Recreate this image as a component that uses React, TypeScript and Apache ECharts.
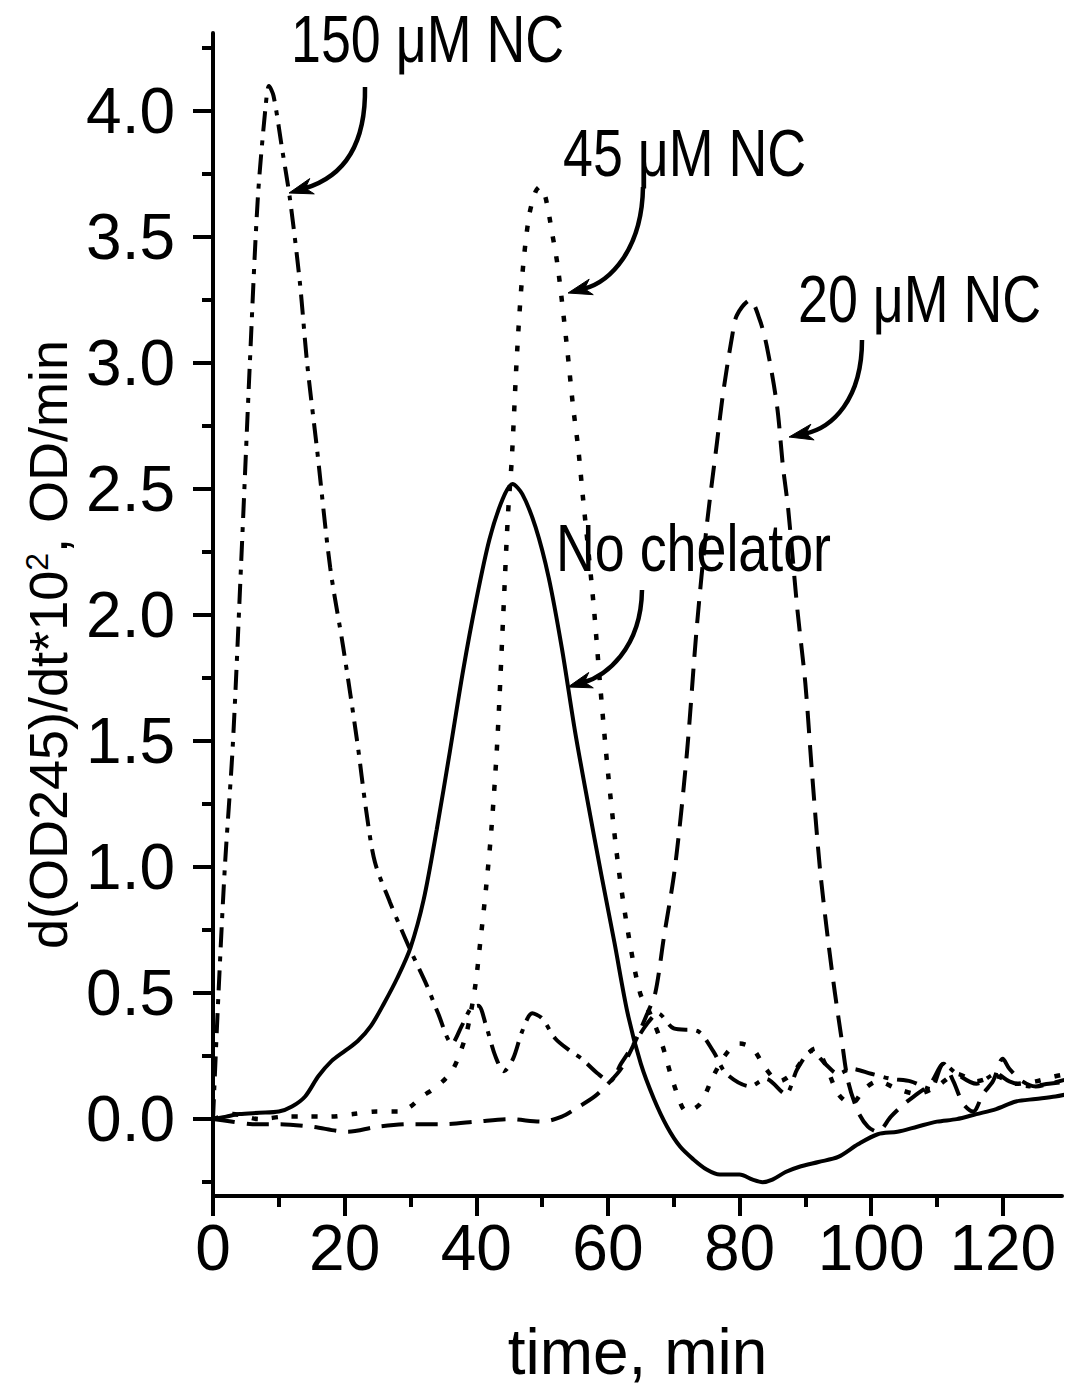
import React, { useEffect, useRef } from "react";
import * as echarts from "echarts";

// ---------- data (time in min, rate in d(OD245)/dt*10^2) ----------
const noChelatorTime = [0, 2, 4, 7, 10, 12, 14, 16, 18, 20, 22, 24, 26, 28, 30, 32, 34, 36, 38, 40, 42, 44, 45.5, 47, 49, 51, 53, 55, 57, 59, 61, 63, 65, 67, 69, 71, 73, 75, 77, 80, 82, 83.5, 85, 87, 89, 92, 95, 98, 101, 104, 107, 110, 113, 116, 119, 122, 125, 128, 130];
const noChelatorRate = [0, 0.01, 0.02, 0.025, 0.03, 0.05, 0.09, 0.17, 0.23, 0.27, 0.31, 0.37, 0.46, 0.56, 0.68, 0.87, 1.15, 1.46, 1.78, 2.06, 2.3, 2.46, 2.52, 2.48, 2.35, 2.15, 1.87, 1.54, 1.25, 0.97, 0.7, 0.42, 0.22, 0.08, -0.03, -0.11, -0.16, -0.2, -0.22, -0.22, -0.24, -0.25, -0.24, -0.21, -0.19, -0.17, -0.15, -0.1, -0.06, -0.05, -0.03, -0.01, 0.0, 0.02, 0.04, 0.07, 0.08, 0.09, 0.1];

const nc150Time = [0, 0.8, 1.8, 3, 4.3, 5.6, 6.8, 8, 8.5, 9.2, 10.5, 11.7, 13.2, 14.3, 15.8, 17.8, 19.8, 21.9, 23.3, 24.6, 26.9, 28.5, 30, 32.5, 34.2, 36.3, 37.8, 39.2, 40.3, 41.5, 42.9, 44.2, 45.6, 47, 48.5, 50, 52, 54.3, 56, 58.5, 60.3, 62, 64, 66, 67.6, 70, 73.6, 76, 78, 81.6, 84, 87, 88.8, 91, 93, 95, 97, 100, 103, 106, 109, 111, 113, 116, 119, 121, 124, 127, 130];
const nc150Rate = [0, 0.48, 1.0, 1.48, 2.22, 3.0, 3.65, 4.02, 4.1, 4.06, 3.85, 3.65, 3.32, 3.0, 2.66, 2.19, 1.87, 1.5, 1.22, 1.02, 0.86, 0.76, 0.67, 0.53, 0.42, 0.3, 0.37, 0.44, 0.45, 0.37, 0.25, 0.19, 0.24, 0.35, 0.42, 0.4, 0.32, 0.27, 0.24, 0.18, 0.15, 0.22, 0.3, 0.38, 0.42, 0.36, 0.35, 0.27, 0.18, 0.13, 0.16, 0.1, 0.2, 0.27, 0.22, 0.18, 0.2, 0.18, 0.16, 0.15, 0.12, 0.22, 0.18, 0.14, 0.18, 0.15, 0.13, 0.14, 0.15];

const nc45Time = [0, 3, 7, 11, 14.3, 17.8, 21.3, 24.9, 28.4, 30, 31.8, 33.5, 35.3, 36.5, 37.5, 38.6, 39.8, 40.6, 41.5, 42.3, 43.2, 44.1, 44.8, 45.4, 46.2, 47, 48, 49, 49.7, 50.5, 51.5, 52.4, 53.8, 54.7, 55.5, 56.2, 57.8, 58.8, 60, 61.6, 63.2, 64.9, 66.4, 68.2, 70, 72, 74, 76, 78, 80, 82, 84, 86, 88, 90, 91.5, 93, 95, 97, 99, 101, 104, 107, 110, 113, 116, 119, 122, 125, 128, 130];
const nc45Rate = [0, 0.02, 0.0, 0.01, 0.01, 0.01, 0.02, 0.03, 0.03, 0.05, 0.09, 0.12, 0.16, 0.2, 0.26, 0.35, 0.52, 0.7, 0.92, 1.15, 1.5, 2.0, 2.39, 2.62, 3.04, 3.35, 3.58, 3.68, 3.7, 3.66, 3.52, 3.38, 3.06, 2.83, 2.66, 2.47, 2.05, 1.73, 1.38, 1.0, 0.72, 0.5, 0.42, 0.3, 0.14, 0.03, 0.06, 0.17, 0.26, 0.3, 0.28, 0.2, 0.15, 0.18, 0.25, 0.28, 0.22, 0.1, 0.06, 0.12, 0.15, 0.12, 0.1, 0.13, 0.18, 0.15, 0.17, 0.14, 0.15, 0.17, 0.18];

const nc20Time = [0, 3, 6, 10, 15, 20.4, 25, 30, 35, 40, 45, 50, 53, 55, 58, 60, 62, 64, 66, 67.2, 68.5, 70.2, 72, 73.5, 75, 76.6, 77.5, 78.9, 79.6, 81.6, 83.1, 84.2, 85.7, 86.6, 87.4, 88.8, 90, 91, 92.2, 93.5, 94.5, 95.5, 96.5, 98, 99.5, 101, 103, 105, 107, 109, 111, 112.5, 114, 115.5, 117, 118.5, 120, 121, 123, 125, 127, 130];
const nc20Rate = [0, -0.01, -0.02, -0.02, -0.03, -0.05, -0.03, -0.02, -0.02, -0.01, 0.0, -0.01, 0.01, 0.04, 0.09, 0.14, 0.2, 0.3, 0.42, 0.5, 0.72, 1.0, 1.45, 1.95, 2.35, 2.69, 2.88, 3.11, 3.19, 3.25, 3.17, 3.06, 2.83, 2.59, 2.42, 2.02, 1.73, 1.38, 1.0, 0.7, 0.5, 0.32, 0.15, 0.03, -0.03, -0.05, 0.01, 0.06, 0.1, 0.14, 0.22, 0.15, 0.06, 0.03, 0.1, 0.15, 0.24, 0.2, 0.15, 0.13, 0.14, 0.16];

const xMajorTicks = [0, 20, 40, 60, 80, 100, 120];
const xMinorTicks = [10, 30, 50, 70, 90, 110];
const yMajorTicks = [0, 0.5, 1.0, 1.5, 2.0, 2.5, 3.0, 3.5, 4.0];
const yMinorTicks = [-0.25, 0.25, 0.75, 1.25, 1.75, 2.25, 2.75, 3.25, 3.75, 4.25];

const annotations = ["150 \u03bcM NC", "45 \u03bcM NC", "20 \u03bcM NC", "No chelator"];

const FONT = "'Liberation Sans Narrow', 'Arial Narrow', 'Liberation Sans', Arial, sans-serif";

const zip = (xs: number[], ys: number[]) => xs.map((x, i) => [x, ys[i]]);

type P = [number, number];
function arrow(p0: P, c1: P, c2: P, tip: P) {
  const dx = tip[0] - c2[0];
  const dy = tip[1] - c2[1];
  const len = Math.hypot(dx, dy);
  const ux = dx / len, uy = dy / len;
  const px = -uy, py = ux;
  const baseX = tip[0] - ux * 24, baseY = tip[1] - uy * 24;
  const notchX = tip[0] - ux * 17, notchY = tip[1] - uy * 17;
  const endX = tip[0] - ux * 16, endY = tip[1] - uy * 16;
  return [
    {
      type: "bezierCurve",
      shape: { x1: p0[0], y1: p0[1], cpx1: c1[0], cpy1: c1[1], cpx2: c2[0], cpy2: c2[1], x2: endX, y2: endY },
      style: { stroke: "#000", lineWidth: 4.5, fill: null },
      silent: true,
    },
    {
      type: "polygon",
      shape: {
        points: [
          [tip[0], tip[1]],
          [baseX + px * 8, baseY + py * 8],
          [notchX, notchY],
          [baseX - px * 8, baseY - py * 8],
        ],
      },
      style: { fill: "#000", stroke: "#000", lineWidth: 1 },
      silent: true,
    },
  ];
}

function label(text: string, x: number, y: number) {
  return {
    type: "text",
    x,
    y,
    scaleX: 0.815,
    style: { text, font: `66px ${FONT}`, fill: "#000", align: "left", verticalAlign: "middle" },
    silent: true,
  };
}

export default function App() {
  const ref = useRef<HTMLDivElement>(null);
  useEffect(() => {
    document.body.style.margin = "0";
    const chart = echarts.init(ref.current!, null, { renderer: "svg" });
    const lineBase = { type: "line", showSymbol: false, symbol: "none", smooth: 0.3, xAxisIndex: 0, yAxisIndex: 0 };
    const axisLine = { show: true, lineStyle: { color: "#000", width: 4 } };
    chart.setOption({
      animation: false,
      backgroundColor: "#fff",
      grid: { left: 213, right: 3, top: 33, bottom: 192 },
      xAxis: [
        {
          type: "value",
          min: 0,
          max: 129,
          axisLine: { ...axisLine, onZero: false },
          axisTick: { show: true, customValues: xMajorTicks, length: 20, lineStyle: { color: "#000", width: 4 } },
          axisLabel: {
            customValues: xMajorTicks,
            margin: 20,
            color: "#000",
            fontSize: 64,
            fontFamily: FONT,
          },
          splitLine: { show: false },
          name: "time, min",
          nameLocation: "middle",
          nameGap: 124,
          nameTextStyle: { color: "#000", fontSize: 64, fontFamily: FONT },
        },
        {
          type: "value",
          min: 0,
          max: 129,
          position: "bottom",
          axisLine: { show: false, onZero: false },
          axisTick: { show: true, customValues: xMinorTicks, length: 11, lineStyle: { color: "#000", width: 4 } },
          axisLabel: { show: false },
          splitLine: { show: false },
        },
      ],
      yAxis: [
        {
          type: "value",
          min: -0.305,
          max: 4.31,
          axisLine: { ...axisLine, onZero: false },
          axisTick: { show: true, customValues: yMajorTicks, length: 20, lineStyle: { color: "#000", width: 4 } },
          axisLabel: {
            customValues: yMajorTicks,
            formatter: (v: number) => v.toFixed(1),
            margin: 38,
            color: "#000",
            fontSize: 64,
            fontFamily: FONT,
          },
          splitLine: { show: false },
          name: "{b|d(OD245)/dt*10}{s|2}{b|, OD/min}",
          nameLocation: "middle",
          nameGap: 130,
          nameTextStyle: {
            color: "#000",
            fontFamily: FONT,
            padding: [0, 60, 0, 0],
            rich: {
              b: { fontSize: 54, fontFamily: FONT, color: "#000" },
              s: { fontSize: 32, fontFamily: FONT, color: "#000", verticalAlign: "top", padding: [0, 0, 22, 0] },
            },
          },
        },
        {
          type: "value",
          min: -0.305,
          max: 4.31,
          position: "left",
          axisLine: { show: false, onZero: false },
          axisTick: { show: true, customValues: yMinorTicks, length: 11, lineStyle: { color: "#000", width: 4 } },
          axisLabel: { show: false },
          splitLine: { show: false },
        },
      ],
      series: [
        {
          ...lineBase,
          name: "20 \u03bcM NC",
          data: zip(nc20Time, nc20Rate),
          lineStyle: { color: "#000", width: 4, type: [22, 12] },
        },
        {
          ...lineBase,
          name: "45 \u03bcM NC",
          data: zip(nc45Time, nc45Rate),
          lineStyle: { color: "#000", width: 4.5, type: [6, 14] },
        },
        {
          ...lineBase,
          name: "150 \u03bcM NC",
          data: zip(nc150Time, nc150Rate),
          lineStyle: { color: "#000", width: 4, type: [20, 9, 5, 9] },
        },
        {
          ...lineBase,
          name: "No chelator",
          data: zip(noChelatorTime, noChelatorRate),
          lineStyle: { color: "#000", width: 4, type: "solid" },
        },
      ],
      graphic: [
        label(annotations[0], 291, 40),
        label(annotations[1], 563, 154),
        label(annotations[2], 798, 300),
        label(annotations[3], 556, 549),
        ...arrow([365, 87], [366, 150], [340, 178], [289, 193]),
        ...arrow([643, 187], [642, 250], [610, 282], [568, 293]),
        ...arrow([862, 340], [862, 400], [832, 428], [789, 437]),
        ...arrow([642, 590], [641, 650], [605, 676], [568, 687]),
      ],
    });
    return () => chart.dispose();
  }, []);
  return <div ref={ref} style={{ width: 1065, height: 1389 }} />;
}
